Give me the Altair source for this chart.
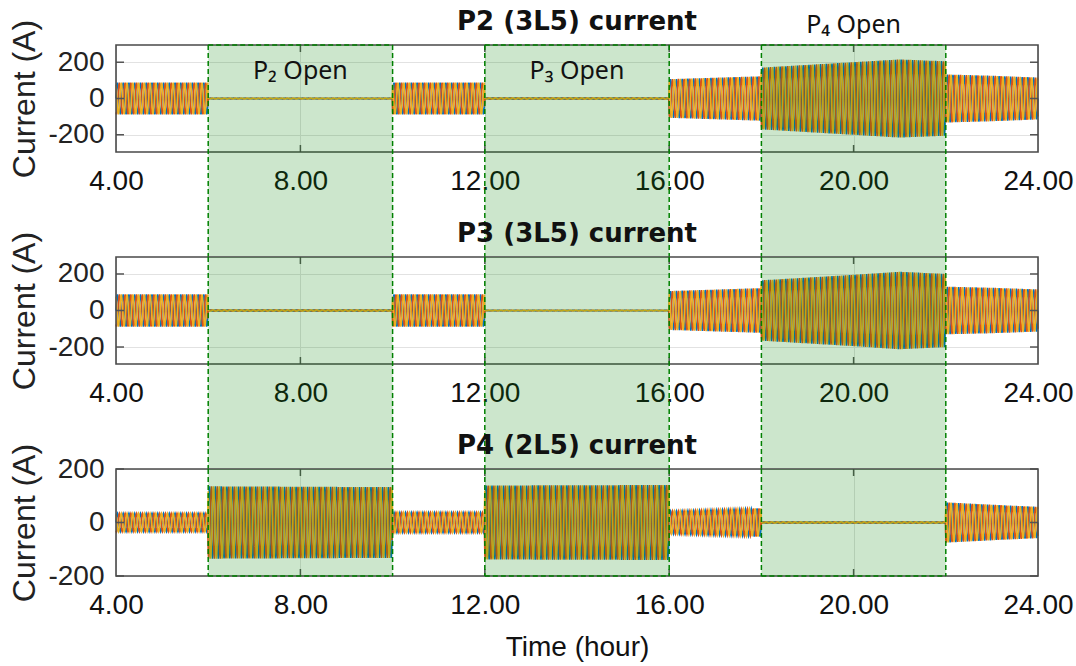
import altair as alt
import numpy as np
import pandas as pd

# Envelope of the three-phase line currents (peak amps) at knot hours;
# repeated hours mark the step changes when a line is opened or closed.
KNOT_HOURS = [4, 6, 6, 10, 10, 12, 12, 16, 16, 18, 18, 19, 20, 21, 22, 22, 23, 24]
AMP_P2 = [88, 88, 2, 2, 88, 88, 3, 3, 106, 122, 170, 185, 200, 215, 205, 132, 125, 115]
AMP_P3 = [88, 88, 3, 3, 88, 88, 1, 1, 106, 122, 165, 180, 195, 212, 200, 130, 124, 115]
AMP_P4 = [35, 35, 135, 132, 38, 38, 138, 140, 43, 53, 2, 2, 2, 2, 2, 75, 66, 58]

# One cycle of the per-unit phase-A waveform (12 samples); B and C lag by 4 and 8 samples.
CYCLE = [0.0, 0.5, 0.866, 1.0, 0.866, 0.5, 0.0, -0.5, -0.866, -1.0, -0.866, -0.5]
CYCLES_PER_HOUR = 8
PHASES = ["a", "b", "c"]
PHASE_COLORS = ["#0072BD", "#D95319", "#EDB120"]

# Periods during which a feeder is open
OPEN_START = [6, 12, 18]
OPEN_END = [10, 16, 22]

X_TICKS = [4, 8, 12, 16, 20, 24]
INNER_X_TICKS = [8, 12, 16, 20]
Y_TICKS = [-200, 0, 200]

W, H, GAP = 922, 107, 105
LEFT, TOP, RIGHT, BOTTOM = 116, 45, 38, 90
FONT = "Liberation Sans"
GREEN = "#008000"
FRAME = "#4a4a4a"


def waveform(amp):
    n_per_cycle = len(CYCLE)
    step = 1.0 / (CYCLES_PER_HOUR * n_per_cycle)
    n = int(round((24 - 4) / step)) + 1
    t = 4 + np.arange(n) * step
    env = np.interp(t, KNOT_HOURS, amp)
    frames = []
    for p, name in enumerate(PHASES):
        shape = np.array([CYCLE[(k - 4 * p) % n_per_cycle] for k in range(n)])
        frames.append(pd.DataFrame({"t": np.round(t, 4), "i": np.round(env * shape, 2), "phase": name}))
    return pd.concat(frames, ignore_index=True)


def panel(amp, title, ydom, last, first):
    x_axis = alt.Axis(
        values=X_TICKS, format=".2f", labelFontSize=28, labelFont=FONT, labelColor="#111",
        labelPadding=15, ticks=False, domain=False, grid=True, gridColor="#e2e2e2",
        labelFlush=False, labelOverlap=False,
        title="Time (hour)" if last else None, titleFont=FONT, titleFontSize=28,
        titleFontWeight="normal", titleColor="#111", titlePadding=14,
    )
    y_axis = alt.Axis(
        values=Y_TICKS, labelExpr="'' + datum.value", labelFontSize=28, labelFont=FONT,
        labelColor="#222", labelPadding=12, ticks=False, domain=False, grid=True,
        gridColor="#e2e2e2", title="Current (A)", titleFont=FONT, titleFontSize=32,
        titleFontWeight="normal", titleColor="#222", titlePadding=6,
    )
    xs = alt.Scale(domain=[4, 24], nice=False, zero=False)
    ys = alt.Scale(domain=ydom, nice=False, zero=False)
    X = lambda f: alt.X(f, scale=xs, axis=x_axis)
    Y = lambda f: alt.Y(f, scale=ys, axis=y_axis)

    lines = alt.Chart(waveform(amp)).mark_line(strokeWidth=1.5).encode(
        x=X("t:Q"), y=Y("i:Q"),
        color=alt.Color("phase:N", scale=alt.Scale(domain=PHASES, range=PHASE_COLORS), legend=None),
    )

    one = pd.DataFrame({"k": [0]})
    frame = alt.Chart(one).mark_rect(fillOpacity=0, stroke=FRAME, strokeWidth=1.6).encode(
        x=alt.value(0), x2=alt.value(W), y=alt.value(0), y2=alt.value(H)
    )

    ext = H if last else H + GAP
    bands = pd.DataFrame({"t": OPEN_START, "t2": OPEN_END})
    fill = alt.Chart(bands).mark_rect(color=GREEN, opacity=0.2).encode(
        x=X("t:Q"), x2="t2:Q", y=alt.value(0), y2=alt.value(ext)
    )
    edges = pd.DataFrame({"t": OPEN_START + OPEN_END})
    vdash = alt.Chart(edges).mark_rule(color=GREEN, strokeWidth=1.5, strokeDash=[5, 3]).encode(
        x=X("t:Q"), y=alt.value(0), y2=alt.value(ext)
    )

    xt = pd.DataFrame({"t": INNER_X_TICKS})
    yt = pd.DataFrame({"i": Y_TICKS})
    tick_style = dict(color="#555", strokeWidth=1.5)
    ticks = [
        alt.Chart(xt).mark_rule(**tick_style).encode(x=X("t:Q"), y=alt.value(0), y2=alt.value(7)),
        alt.Chart(xt).mark_rule(**tick_style).encode(x=X("t:Q"), y=alt.value(H - 7), y2=alt.value(H)),
        alt.Chart(yt).mark_rule(**tick_style).encode(y=Y("i:Q"), x=alt.value(0), x2=alt.value(8)),
        alt.Chart(yt).mark_rule(**tick_style).encode(y=Y("i:Q"), x=alt.value(W - 8), x2=alt.value(W)),
    ]

    heading = alt.Chart(pd.DataFrame({"txt": [title]})).mark_text(
        font="DejaVu Sans", fontSize=26, fontWeight="bold", color="#111",
        align="center", baseline="alphabetic",
    ).encode(x=alt.value(W / 2), y=alt.value(-15), text="txt:N")

    layers = [lines] + ticks + [frame, heading, fill, vdash]
    if first:
        layers.append(
            alt.Chart(bands).mark_rule(color=GREEN, strokeWidth=1.5, strokeDash=[5, 3]).encode(
                x=X("t:Q"), x2="t2:Q", y=alt.value(0)
            )
        )
        notes = pd.DataFrame({"t": [8, 14], "txt": ["P₂ Open", "P₃ Open"]})
        layers.append(
            alt.Chart(notes).mark_text(font="Noto Sans", fontSize=25, color="#111", baseline="alphabetic").encode(
                x=X("t:Q"), y=alt.value(34), text="txt:N"
            )
        )
        above = pd.DataFrame({"t": [20], "txt": ["P₄ Open"]})
        layers.append(
            alt.Chart(above).mark_text(font="Noto Sans", fontSize=25, color="#111", baseline="alphabetic").encode(
                x=X("t:Q"), y=alt.value(-12), text="txt:N"
            )
        )
        # invisible frame edge that pins the canvas margin above/left of the panels
        layers.append(
            alt.Chart(one).mark_rule(color="white", opacity=0).encode(
                x=alt.value(-LEFT), x2=alt.value(W + RIGHT), y=alt.value(-TOP)
            )
        )
    if last:
        layers.append(
            alt.Chart(bands).mark_rule(color=GREEN, strokeWidth=1.5, strokeDash=[5, 3]).encode(
                x=X("t:Q"), x2="t2:Q", y=alt.value(H)
            )
        )
        # invisible frame edge that pins the canvas margin below the panels
        layers.append(
            alt.Chart(one).mark_rule(color="white", opacity=0).encode(
                x=alt.value(-LEFT), x2=alt.value(W + RIGHT), y=alt.value(H + BOTTOM)
            )
        )

    return alt.layer(*layers).properties(width=W, height=H)


chart = alt.vconcat(
    panel(AMP_P2, "P2 (3L5) current", [-295, 295], last=False, first=True),
    panel(AMP_P3, "P3 (3L5) current", [-293, 293], last=False, first=False),
    panel(AMP_P4, "P4 (2L5) current", [-200, 200], last=True, first=False),
    spacing=GAP, bounds="flush",
).properties(
    padding=0, background="white",
).configure_view(stroke=None)

chart.save("out.html", embed_options={"renderer": "svg", "actions": False})
